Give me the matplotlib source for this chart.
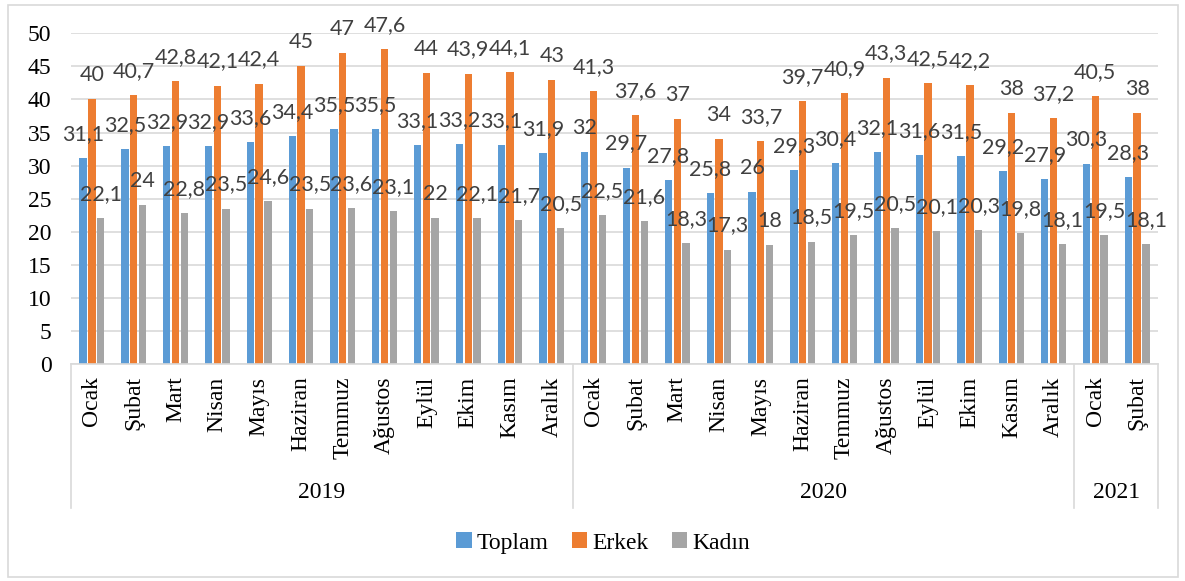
import numpy as np
import matplotlib.pyplot as plt
from matplotlib.transforms import blended_transform_factory
from matplotlib.patches import Rectangle

# data
months = ["Ocak", "Şubat", "Mart", "Nisan", "Mayıs", "Haziran", "Temmuz",
          "Ağustos", "Eylül", "Ekim", "Kasım", "Aralık"]
labels = months + months + months[:2]
years = ["2019", "2020", "2021"]
year_counts = [12, 12, 2]

toplam = [31.1, 32.5, 32.9, 32.9, 33.6, 34.4, 35.5, 35.5, 33.1, 33.2, 33.1, 31.9,
          32.0, 29.7, 27.8, 25.8, 26.0, 29.3, 30.4, 32.1, 31.6, 31.5, 29.2, 27.9,
          30.3, 28.3]
erkek = [40.0, 40.7, 42.8, 42.1, 42.4, 45.0, 47.0, 47.6, 44.0, 43.9, 44.1, 43.0,
         41.3, 37.6, 37.0, 34.0, 33.7, 39.7, 40.9, 43.3, 42.5, 42.2, 38.0, 37.2,
         40.5, 38.0]
kadin = [22.1, 24.0, 22.8, 23.5, 24.6, 23.5, 23.6, 23.1, 22.0, 22.1, 21.7, 20.5,
         22.5, 21.6, 18.3, 17.3, 18.0, 18.5, 19.5, 20.5, 20.1, 20.3, 19.8, 18.1,
         19.5, 18.1]

series = [("Toplam", toplam, "#5B9BD5"),
          ("Erkek", erkek, "#ED7D31"),
          ("Kadın", kadin, "#A5A5A5")]

serif = "Liberation Serif"
grid_c = "#D9D9D9"
fs = 17


def fmt(v):
    return f"{v:g}".replace(".", ",")


fig = plt.figure(figsize=(11.85, 5.81), dpi=100)
ax = fig.add_axes([71 / 1185, 1 - 364 / 581, 1087 / 1185, 330.7 / 581])

x = np.arange(len(labels))
step = 0.21
width = 0.175
for i, (name, vals, col) in enumerate(series):
    pos = x + (i - 1) * step
    ax.bar(pos, vals, width, color=col, label=name, zorder=2)
    for px, v in zip(pos, vals):
        ax.annotate(fmt(v), (px, v), xytext=(0, 13), textcoords="offset points",
                    ha="center", va="baseline", fontsize=15.5, family="Lato",
                    color="#404040", annotation_clip=False, zorder=3)

ax.set_xlim(-0.5, len(labels) - 0.5)
ax.set_ylim(0, 50)
ax.set_yticks(np.arange(0, 51, 5))
ax.yaxis.grid(True, color=grid_c, linewidth=1.2)
ax.set_axisbelow(True)
for s in ["top", "right", "left"]:
    ax.spines[s].set_visible(False)
ax.spines["bottom"].set_color(grid_c)
ax.spines["bottom"].set_linewidth(1.2)
ax.tick_params(axis="y", length=0, pad=14, labelsize=fs)
ax.tick_params(axis="x", length=0, pad=9, labelsize=fs)
for t in ax.get_yticklabels():
    t.set_family(serif)
ax.set_xticks(x)
ax.set_xticklabels(labels, rotation=90, family=serif, va="top")

# year group separators and labels
tr = blended_transform_factory(ax.transData, ax.transAxes)
edges = np.concatenate([[0], np.cumsum(year_counts)]) - 0.5
for e in edges:
    ax.plot([e, e], [0, -0.435], transform=tr, color=grid_c, lw=1.2, clip_on=False)
for y, a, b in zip(years, edges[:-1], edges[1:]):
    ax.text((a + b) / 2, -0.39, y, transform=tr, ha="center", va="center",
            fontsize=fs, family=serif)

fig.legend(loc="center", bbox_to_anchor=(603 / 1185, 1 - 543 / 581), ncol=3,
           frameon=False, prop={"family": serif, "size": fs}, handlelength=0.65,
           handleheight=0.65, handletextpad=0.2, columnspacing=1.0)

fig.patches.append(Rectangle((8 / 1185, 4 / 581), 1170 / 1185, 572 / 581,
                             transform=fig.transFigure, fill=False,
                             edgecolor=grid_c, lw=1.2))

fig.savefig("out.png", dpi=100)
